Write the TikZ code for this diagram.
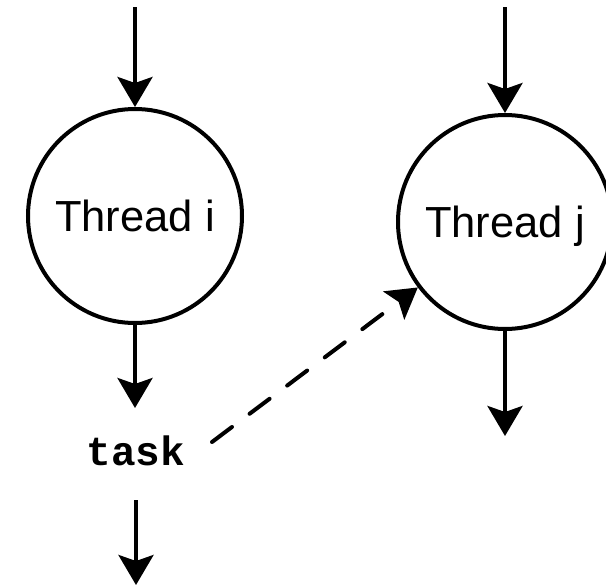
\documentclass[tikz,border=0pt]{standalone}
\usepackage{fontspec}
\setmainfont{Liberation Sans}
\newfontfamily\codefont{Liberation Mono}
\usetikzlibrary{arrows.meta}
\tikzset{
  arr/.style={line width=4pt,-{Stealth[length=30pt,width=35pt,inset=6pt]}},
  thread/.style={circle,draw,line width=4pt,minimum size=214pt,inner sep=0pt,
    font=\fontsize{43.5}{43.5}\selectfont,text depth=0pt}
}
\begin{document}
\begin{tikzpicture}[x=1pt,y=-1pt]
\useasboundingbox (0,0) rectangle (606,587);
\node[thread] (ti) at (135,216) {Thread i};
\node[thread] (tj) at (505,222) {Thread j};
\node[anchor=base,inner sep=0pt,font=\codefont\bfseries\fontsize{41}{41}\selectfont] (task) at (136,465) {task};

\coordinate (iin) at (135,7);
\coordinate (jin) at (505,7);
\coordinate (iout) at (135,408);
\coordinate (jout) at (505,436);
\coordinate (taskout) at (136,585);
\coordinate (spawn) at (212,442);

\draw[arr] (iin) -- (ti);
\draw[arr] (jin) -- (tj);
\draw[arr] (ti) -- (iout);
\draw[arr] (tj) -- (jout);
\draw[arr] ([yshift=-35pt]task.base) -- (taskout);
\draw[arr,line cap=round,dash pattern=on 25pt off 22pt] (spawn) -- (tj);
\end{tikzpicture}
\end{document}
